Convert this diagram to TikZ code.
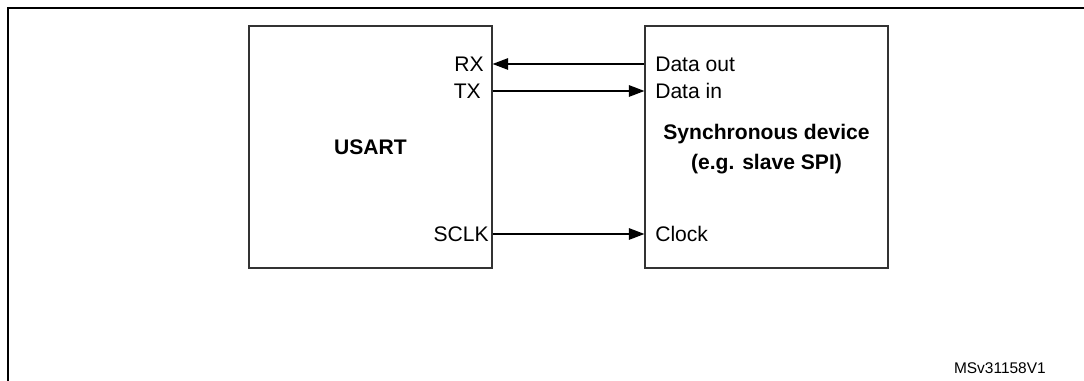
\documentclass[tikz,border=0pt]{standalone}
\usepackage{fontspec}
\setmainfont{Liberation Sans}
\usepackage{tikz}
\usetikzlibrary{arrows.meta,positioning}

\begin{document}
\begin{tikzpicture}[x=0.25mm, y=0.25mm, >={Triangle[length=3.9mm,width=2.9mm]},
    block/.style={draw=black!80, line width=0.3mm, minimum width=60.75mm, minimum height=60.5mm, inner sep=0pt},
    pin/.style={inner sep=0pt, font=\fontsize{15pt}{18pt}\selectfont},
    sig/.style={->, line width=0.3mm}]

    \useasboundingbox (0,0) rectangle (1084,381);

    % --- Frame ---
    \draw[line width=0.6mm] (8,0) -- (8,373) -- (1084,373);

    % --- Left block: USART ---
    \node[block] (usart) at (370.5,234) {};
    \node[pin, font=\fontsize{15pt}{18pt}\selectfont\bfseries] (usartlbl) at (usart.center) {USART};
    \node[pin, anchor=east] (rx) at (484,317) {RX};
    \node[pin, anchor=east] (tx) at (481,290) {TX};
    \node[pin, anchor=east] (sclk) at (489,147) {SCLK};

    % --- Right block: synchronous device ---
    \node[block] (sync) at (766.5,234) {};
    \node[pin, align=center, font=\fontsize{15pt}{21.3pt}\selectfont\bfseries] (synclbl) at (766.5,232)
        {Synchronous device\\(e.g. slave SPI)};
    \node[pin, anchor=west] (dout) at (655,317) {Data out};
    \node[pin, anchor=west] (din) at (655,290) {Data in};
    \node[pin, anchor=west] (clk) at (655,147) {Clock};

    % --- Signals ---
    \draw[sig] (sync.west |- rx) -- (usart.east |- rx);
    \draw[sig] (usart.east |- din) -- (sync.west |- din);
    \draw[sig] (usart.east |- clk) -- (sync.west |- clk);

    % --- Figure id ---
    \node[pin, anchor=east, font=\fontsize{11pt}{13pt}\selectfont] (figid) at (1046,13) {MSv31158V1};

\end{tikzpicture}
\end{document}
